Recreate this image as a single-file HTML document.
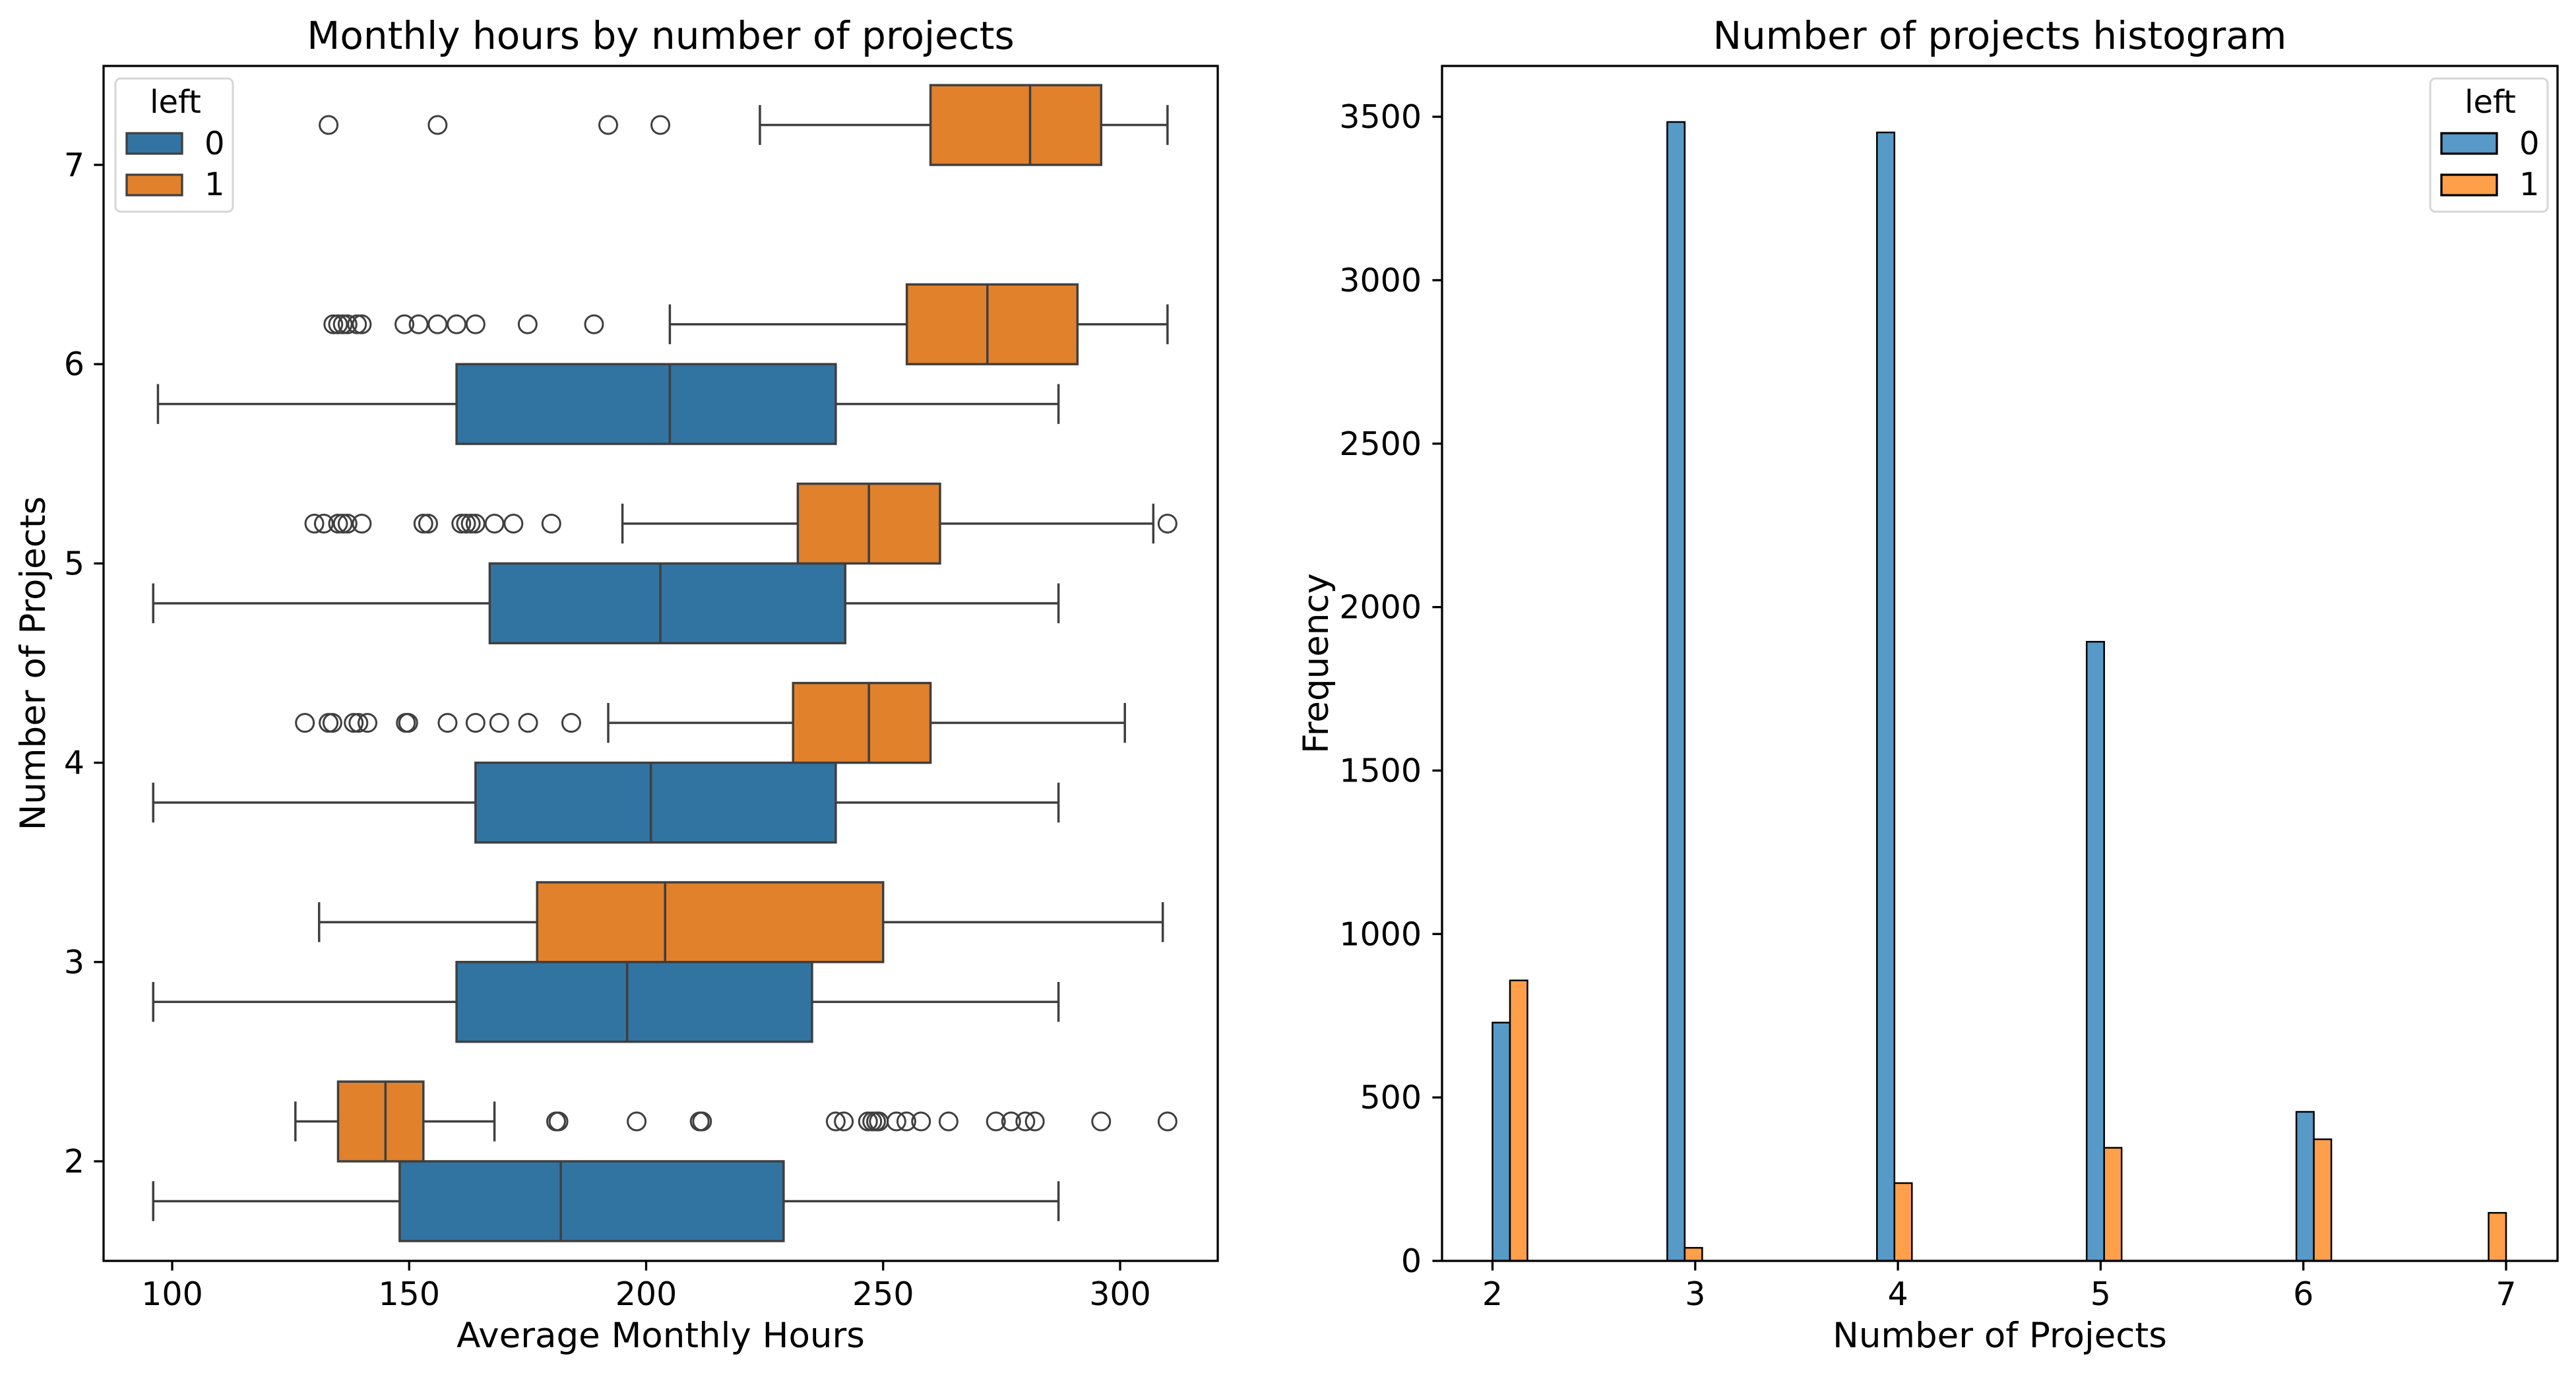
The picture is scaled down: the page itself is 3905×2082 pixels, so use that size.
<!DOCTYPE html>
<html><head><meta charset="utf-8">
<style>
html,body{margin:0;padding:0;background:#fff;}
svg{display:block;font-family:"DejaVu Sans","Liberation Sans",sans-serif;}
</style></head>
<body>
<svg id="fig" width="3905" height="2082" viewBox="0 0 3905 2082" xmlns="http://www.w3.org/2000/svg">
<rect x="0" y="0" width="3905" height="2082" fill="#fff"/>
<g id="left"></g>
<g id="right"></g>
</svg>
<script>
// ---- Box plot data ----
const projectCounts = [2, 3, 4, 5, 6, 7];
// [whiskerLow, q1, median, q3, whiskerHigh] ; null = no box
const stayedStats = [
  [96, 148, 182, 229, 287],
  [96, 160, 196, 235, 287],
  [96, 164, 201, 240, 287],
  [96, 167, 203, 242, 287],
  [97, 160, 205, 240, 287],
  null
];
const leftStats = [
  [126, 135, 145, 153, 168],
  [131, 177, 204, 250, 309],
  [192, 231, 247, 260, 301],
  [195, 232, 247, 262, 307],
  [205, 255, 272, 291, 310],
  [224, 260, 281, 296, 310]
];
const leftOutliers = [
  [181, 181.5, 198, 211.3, 211.8, 240, 241.7, 246.8, 247.7, 248.5, 249.1, 252.8, 254.9, 258, 263.8, 273.8, 277, 280, 282, 296, 310],
  [],
  [128, 133, 133.8, 138.3, 139.3, 141.2, 149.3, 149.8, 158.1, 164, 169, 175.1, 184.2],
  [130, 132, 135, 136, 137, 140, 153, 154, 161, 162, 163, 164, 168, 172, 180, 310],
  [134, 135, 136, 137, 139, 140, 149, 152, 156, 160, 164, 175, 189],
  [133, 156, 192, 203]
];
const hoursTicks = [100, 150, 200, 250, 300];
const projTicks = [2, 3, 4, 5, 6, 7];

// ---- Histogram data ----
const histCategories = [2, 3, 4, 5, 6, 7];
const histStayed = [729, 3484, 3452, 1894, 456, 0];
const histLeft = [858, 40, 238, 346, 372, 147];
const freqTicks = [0, 500, 1000, 1500, 2000, 2500, 3000, 3500];

const NS = "http://www.w3.org/2000/svg";
function mk(parent, tag, attrs, text) {
  const e = document.createElementNS(NS, tag);
  for (const k in attrs) e.setAttribute(k, attrs[k]);
  if (text !== undefined) e.textContent = text;
  parent.appendChild(e);
  return e;
}
const DARK = "#3f3f3f";
const TICK_FS = 49, TITLE_FS = 58, LABEL_FS = 53, LEG_FS = 48;

// ===== Left panel =====
const L = document.getElementById('left');
const LA = {x0: 157, x1: 1846, y0: 100, y1: 1912};
const hx = v => 261 + (v - 100) * 7.185;
const py = k => 1761 - (k - 2) * 302.2;

projectCounts.forEach((k, i) => {
  const drawBox = (st, center, fill, nm) => {
    if (!st) return;
    const g = mk(L, 'g', {});
    
    
    const yc = py(center), hh = 0.2 * 302.2, ch = 0.1 * 302.2;
    mk(g, 'line', {x1: hx(st[0]), x2: hx(st[1]), y1: yc, y2: yc, stroke: DARK, 'stroke-width': 3.5});
    mk(g, 'line', {x1: hx(st[3]), x2: hx(st[4]), y1: yc, y2: yc, stroke: DARK, 'stroke-width': 3.5});
    mk(g, 'line', {x1: hx(st[0]), x2: hx(st[0]), y1: yc - ch, y2: yc + ch, stroke: DARK, 'stroke-width': 3.5});
    mk(g, 'line', {x1: hx(st[4]), x2: hx(st[4]), y1: yc - ch, y2: yc + ch, stroke: DARK, 'stroke-width': 3.5});
    mk(g, 'rect', {x: hx(st[1]), y: yc - hh, width: hx(st[3]) - hx(st[1]), height: 2 * hh, fill: fill, stroke: DARK, 'stroke-width': 3.5});
    mk(g, 'line', {x1: hx(st[2]), x2: hx(st[2]), y1: yc - hh, y2: yc + hh, stroke: DARK, 'stroke-width': 3.5});
  };
  drawBox(stayedStats[i], k - 0.2, '#3274a1', 'stayed');
  drawBox(leftStats[i], k + 0.2, '#e1812c', 'left');
  leftOutliers[i].forEach(v => {
    const c = mk(L, 'circle', {cx: hx(v), cy: py(k + 0.2), r: 13.5, fill: 'none', stroke: DARK, 'stroke-width': 3});
    
    
  });
});
const lf = mk(L, 'rect', {x: LA.x0, y: LA.y0, width: LA.x1 - LA.x0, height: LA.y1 - LA.y0, fill: 'none', stroke: '#000', 'stroke-width': 3.3});


hoursTicks.forEach(v => {
  mk(L, 'line', {x1: hx(v), x2: hx(v), y1: LA.y1, y2: LA.y1 + 14.6, stroke: '#000', 'stroke-width': 3.3});
  const t = mk(L, 'text', {x: hx(v), y: 1979, 'font-size': TICK_FS, 'text-anchor': 'middle', fill: '#000'}, String(v));
  
  
});
projTicks.forEach(k => {
  mk(L, 'line', {x1: LA.x0 - 14.6, x2: LA.x0, y1: py(k), y2: py(k), stroke: '#000', 'stroke-width': 3.3});
  const t = mk(L, 'text', {x: LA.x0 - 29, y: py(k) + 17, 'font-size': TICK_FS, 'text-anchor': 'end', fill: '#000'}, String(k));
  
  
});
let t;
t = mk(L, 'text', {x: (LA.x0 + LA.x1) / 2, y: 74, 'font-size': TITLE_FS, 'text-anchor': 'middle'}, 'Monthly hours by number of projects');
 
t = mk(L, 'text', {x: (LA.x0 + LA.x1) / 2, y: 2043, 'font-size': LABEL_FS, 'text-anchor': 'middle'}, 'Average Monthly Hours');
 
t = mk(L, 'text', {x: 0, y: 0, 'font-size': LABEL_FS, 'text-anchor': 'middle', transform: 'translate(68,1006) rotate(-90)'}, 'Number of Projects');
 

function legend(parent, x, y, c0, c1, edge, nm) {
  const g = mk(parent, 'g', {transform: `translate(${x},${y})`});
  
  
  mk(g, 'rect', {x: 0, y: 0, width: 178, height: 202, rx: 8, fill: 'rgba(255,255,255,0.8)', stroke: '#d6d6d6', 'stroke-width': 3});
  mk(g, 'text', {x: 91, y: 52, 'font-size': LEG_FS, 'text-anchor': 'middle'}, 'left');
  const e0 = mk(g, 'g', {});
   
  mk(e0, 'rect', {x: 17, y: 83, width: 84, height: 31, fill: c0, stroke: edge, 'stroke-width': 3.3});
  mk(e0, 'text', {x: 135, y: 115, 'font-size': LEG_FS}, '0');
  const e1 = mk(g, 'g', {});
   
  mk(e1, 'rect', {x: 17, y: 146, width: 84, height: 31, fill: c1, stroke: edge, 'stroke-width': 3.3});
  mk(e1, 'text', {x: 135, y: 177, 'font-size': LEG_FS}, '1');
}
legend(L, 175, 119, '#3274a1', '#e1812c', DARK, 'left-legend');

// ===== Right panel =====
const R = document.getElementById('right');
const RA = {x0: 2186, x1: 3877, y0: 100, y1: 1912};
const cx = v => 2262.5 + (v - 2) * 307.3;
const fy = f => 1912 - f * 0.4957;
const binW = 5 / 29;
histCategories.forEach((k, i) => {
  const n = Math.min(Math.floor((k - 2) / binW + 1e-9), 28);
  const edge = 2 + n * binW;
  const half = binW / 2;
  if (histStayed[i] > 0) {
    const b = mk(R, 'rect', {x: cx(edge), y: fy(histStayed[i]), width: cx(edge + half) - cx(edge), height: fy(0) - fy(histStayed[i]), fill: '#5799c7', stroke: '#000', 'stroke-width': 2.5});
    
    
  }
  if (histLeft[i] > 0) {
    const b = mk(R, 'rect', {x: cx(edge + half), y: fy(histLeft[i]), width: cx(edge + binW) - cx(edge + half), height: fy(0) - fy(histLeft[i]), fill: '#ff9f4a', stroke: '#000', 'stroke-width': 2.5});
    
    
  }
});
const rf = mk(R, 'rect', {x: RA.x0, y: RA.y0, width: RA.x1 - RA.x0, height: RA.y1 - RA.y0, fill: 'none', stroke: '#000', 'stroke-width': 3.3});


histCategories.forEach(k => {
  mk(R, 'line', {x1: cx(k), x2: cx(k), y1: RA.y1, y2: RA.y1 + 14.6, stroke: '#000', 'stroke-width': 3.3});
  const tt = mk(R, 'text', {x: cx(k), y: 1979, 'font-size': TICK_FS, 'text-anchor': 'middle'}, String(k));
  
  
});
freqTicks.forEach(f => {
  mk(R, 'line', {x1: RA.x0 - 14.6, x2: RA.x0, y1: fy(f), y2: fy(f), stroke: '#000', 'stroke-width': 3.3});
  const tt = mk(R, 'text', {x: RA.x0 - 31, y: fy(f) + 17, 'font-size': TICK_FS, 'text-anchor': 'end'}, String(f));
  
  
});
t = mk(R, 'text', {x: (RA.x0 + RA.x1) / 2, y: 74, 'font-size': TITLE_FS, 'text-anchor': 'middle'}, 'Number of projects histogram');
 
t = mk(R, 'text', {x: (RA.x0 + RA.x1) / 2, y: 2043, 'font-size': LABEL_FS, 'text-anchor': 'middle'}, 'Number of Projects');
 
t = mk(R, 'text', {x: 0, y: 0, 'font-size': LABEL_FS, 'text-anchor': 'middle', transform: 'translate(2013,1006) rotate(-90)'}, 'Frequency');
 
legend(R, 3684, 119, '#5799c7', '#ff9f4a', '#000', 'right-legend');
</script>
</body></html>
